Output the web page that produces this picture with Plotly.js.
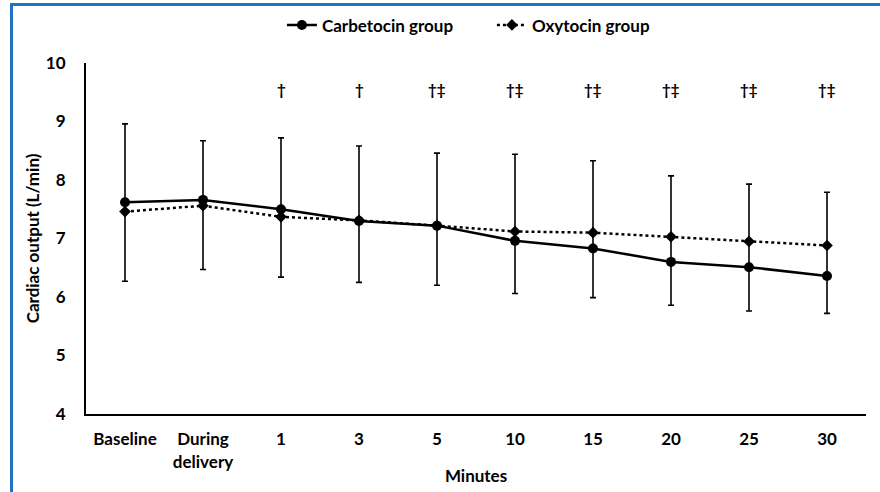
<!DOCTYPE html>
<html>
<head>
<meta charset="utf-8">
<script src="https://cdn.plot.ly/plotly-3.0.1.min.js"></script>
<style>
html,body{margin:0;padding:0;background:#fff;}
#wrap{position:relative;width:880px;height:492px;overflow:hidden;}
#chart{position:absolute;left:0;top:0;width:880px;height:492px;}
#frame{position:absolute;left:10px;top:3px;width:900px;height:520px;border-left:3px solid #1f72c4;border-top:3px solid #1f72c4;pointer-events:none;}
</style>
</head>
<body>
<div id="wrap"><div id="chart"></div><div id="frame"></div></div>
<script>
const categories = ["Baseline", "During<br>delivery", "1", "3", "5", "10", "15", "20", "25", "30"];
const carbetocin = [7.62, 7.66, 7.50, 7.30, 7.22, 6.96, 6.83, 6.60, 6.51, 6.36];
const oxytocin   = [7.46, 7.56, 7.37, 7.31, 7.22, 7.12, 7.10, 7.03, 6.95, 6.88];
const errUpper   = [8.96, 8.67, 8.72, 8.58, 8.46, 8.44, 8.33, 8.07, 7.93, 7.79];
const errLower   = [6.27, 6.47, 6.34, 6.25, 6.20, 6.06, 5.99, 5.86, 5.76, 5.72];
const significance = ["", "", "†", "†", "†‡", "†‡", "†‡", "†‡", "†‡", "†‡"];
const sigLevel = 9.55;

const plus  = errUpper.map((u, i) => u - carbetocin[i]);
const minus = errLower.map((l, i) => carbetocin[i] - l);

const fontFam = "Lato, 'Open Sans', sans-serif";
const bold = (s) => ({family: fontFam, size: s, color: "#000", weight: "bold"});

const traces = [
  {
    x: categories, y: oxytocin, type: "scatter", mode: "lines+markers",
    name: "Oxytocin group",
    line: {color: "#000", width: 2.5, dash: "dot"},
    marker: {symbol: "diamond", size: 9, color: "#000"}
  },
  {
    x: categories, y: carbetocin, type: "scatter", mode: "lines+markers",
    name: "Carbetocin group",
    line: {color: "#000", width: 2.5},
    marker: {symbol: "circle", size: 10, color: "#000"},
    error_y: {type: "data", symmetric: false, array: plus, arrayminus: minus,
              color: "#000", thickness: 1.6, width: 3}
  }
];

const annotations = significance.map((t, i) => ({
  x: i, y: sigLevel, xref: "x", yref: "y", text: t,
  showarrow: false, font: bold(15)
})).filter(a => a.text !== "");

const layout = {
  width: 880, height: 492,
  margin: {l: 86, r: 14, t: 63, b: 78},
  paper_bgcolor: "#fff", plot_bgcolor: "#fff",
  font: bold(17),
  showlegend: true,
  legend: {orientation: "h", traceorder: "reversed", x: 0.559, xanchor: "center",
           xref: "container", y: 0.985, yref: "container", yanchor: "top",
           entrywidth: 165, entrywidthmode: "pixels",
           font: bold(17)},
  xaxis: {
    type: "category", range: [-0.5, 9.5], showgrid: false, zeroline: false,
    showline: true, linecolor: "#000", linewidth: 2,
    ticks: "outside", ticklen: 9, tickcolor: "rgba(0,0,0,0)",
    tickfont: bold(17),
    title: {text: "Minutes", standoff: 0, font: bold(17)},
    fixedrange: true
  },
  yaxis: {
    range: [4, 10], dtick: 1, showgrid: false, zeroline: false,
    showline: true, linecolor: "#000", linewidth: 2,
    ticks: "outside", ticklen: 15, tickcolor: "rgba(0,0,0,0)",
    tickfont: bold(17),
    title: {text: "Cardiac output (L/min)", standoff: 2, font: bold(17)},
    fixedrange: true
  },
  annotations: annotations
};

Plotly.newPlot("chart", traces, layout, {staticPlot: true, displayModeBar: false});
</script>
</body>
</html>
